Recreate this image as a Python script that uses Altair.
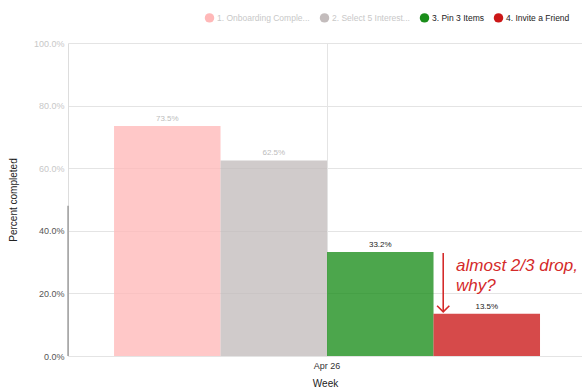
import altair as alt
import pandas as pd

steps = ["1. Onboarding Completed", "2. Select 5 Interests", "3. Pin 3 Items", "4. Invite a Friend"]
week = ["Apr 26", "Apr 26", "Apr 26", "Apr 26"]
pct = [0.735, 0.625, 0.332, 0.135]
colors = ["#ffb8b8", "#c3bcbc", "#1a8d1a", "#cb1717"]

note_lines = ["almost 2/3 drop,", "why?"]
note_x = [0.755, 0.755]
note_y = [0.272, 0.208]
arrow_x = [0.730]
arrow_top = [0.329]
arrow_tip = [0.141]

FONT = "Liberation Sans"

df = pd.DataFrame({"step": steps, "week": week, "pct": pct})
notes = pd.DataFrame({"line": note_lines, "x": note_x, "y": note_y})
arrow = pd.DataFrame({"x": arrow_x, "y": arrow_top, "y2": arrow_tip})
axis_stub = pd.DataFrame({"x": [0.0], "y": [0.0], "y2": [0.48]})

yscale = alt.Scale(domain=[0, 1])

x_enc = alt.X(
    "week:N",
    title="Week",
    scale=alt.Scale(paddingInner=0, paddingOuter=0.1033, align=0.523),
    axis=alt.Axis(
        labelAngle=0, labelFontSize=9, labelColor="#333", labelFont=FONT,
        titleFontSize=10, titleFontWeight="normal", titleColor="#222", titleFont=FONT,
        titlePadding=8, grid=True, gridColor="#e4e4e4", bandPosition=0.5,
        domain=False, ticks=False, labelPadding=5,
    ),
)

bars = alt.Chart(df).mark_bar(opacity=0.78).encode(
    x=x_enc,
    xOffset=alt.XOffset("step:N", sort=steps, scale=alt.Scale(paddingInner=0, paddingOuter=0)),
    y=alt.Y(
        "pct:Q",
        scale=yscale,
        title="Percent completed",
        axis=alt.Axis(
            format=".1%", values=[0, 0.2, 0.4, 0.6, 0.8, 1.0],
            labelFontSize=9, labelFont=FONT, labelPadding=4, ticks=False,
            labelColor={"condition": {"test": "datum.value >= 0.5", "value": "#c8c8c8"}, "value": "#555"},
            titleFontSize=10, titleFontWeight="normal", titleColor="#222", titleFont=FONT,
            titleX=-50,
            gridColor="#e4e4e4", domainColor="#dddddd",
        ),
    ),
    color=alt.Color(
        "step:N", sort=steps,
        scale=alt.Scale(domain=steps, range=colors),
        legend=alt.Legend(
            title=None, orient="none", direction="horizontal", columns=4,
            legendX=136, legendY=-31, padding=0,
            symbolType="circle", symbolSize=90, symbolOpacity=1,
            labelFontSize=8.5, labelFont=FONT, columnPadding=9, labelOffset=2,
            labelExpr="length(datum.label) > 20 ? slice(datum.label, 0, 20) + '...' : datum.label",
            labelColor=alt.expr("datum.index < 2 ? '#c8c8c8' : '#222'"),
        ),
    ),
)

labels = alt.Chart(df).mark_text(baseline="bottom", dy=-3, fontSize=8, font=FONT).encode(
    x=alt.X("week:N"),
    xOffset=alt.XOffset("step:N", sort=steps),
    y=alt.Y("pct:Q", scale=yscale),
    text=alt.Text("pct:Q", format=".1%"),
    color=alt.condition("datum.pct > 0.5", alt.value("#bdbdbd"), alt.value("#222")),
)

xq = alt.X("x:Q", scale=alt.Scale(domain=[0, 1]), axis=None)

note = alt.Chart(notes).mark_text(
    align="left", baseline="alphabetic", fontSize=17, fontStyle="italic", font=FONT, color="#d42a2a"
).encode(x=xq, y=alt.Y("y:Q", scale=yscale), text="line:N")

arrow_line = alt.Chart(arrow).mark_rule(color="#d42a2a", strokeWidth=1.6).encode(
    x=xq, y=alt.Y("y:Q", scale=yscale), y2="y2:Q"
)
arrow_head = alt.Chart(arrow).mark_point(
    shape="M -1 -1 L 0 0 L 1 -1", filled=False, color="#d42a2a", strokeWidth=1.6, size=150, opacity=1
).encode(x=xq, y=alt.Y("y2:Q", scale=yscale))

stub = alt.Chart(axis_stub).mark_rule(color="#777", strokeWidth=1).encode(
    x=xq, y=alt.Y("y:Q", scale=yscale), y2="y2:Q"
)

main = alt.layer(bars, labels)
ann = alt.layer(note, arrow_line, arrow_head, stub)

chart = alt.layer(main, ann).resolve_scale(x="independent").properties(
    width=514, height=313,
    autosize=alt.AutoSizeParams(type="none"),
    padding={"left": 68, "top": 43, "right": 0, "bottom": 33},
).configure_view(stroke=None)

chart.save("out.html", embed_options={"renderer": "svg", "actions": False})
